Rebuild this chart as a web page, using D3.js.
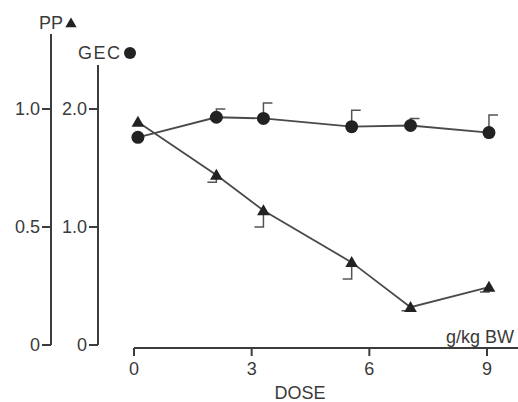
<!DOCTYPE html>
<html>
<head>
<meta charset="utf-8">
<script src="https://cdn.jsdelivr.net/npm/d3@7"></script>
<style>
  body { margin: 0; background: #fff; }
  text { font-family: "Liberation Sans", Arial, sans-serif; fill: #3a3a3a; }
</style>
</head>
<body>
<div id="chart"></div>
<script>
// data
var doses = [0.1, 2.1, 3.3, 5.55, 7.05, 9.05];
var gecValues = [1.76, 1.93, 1.92, 1.85, 1.86, 1.80];
var gecErrTop = [null, 2.0, 2.05, 1.99, 1.92, 1.95];
var ppValues = [0.945, 0.72, 0.57, 0.35, 0.16, 0.245];
var ppErrLow = [null, 0.69, 0.50, 0.28, 0.145, 0.225];
var doseTicks = [0, 3, 6, 9];
var ppTicks = [0, 0.5, 1.0];
var gecTicks = [0, 1.0, 2.0];

var attrs = {
  svgWidth: 518,
  svgHeight: 402,
  ink: '#3c3c3c',
  fontSize: 18
};

var svg = d3.select('#chart').append('svg')
  .attr('width', attrs.svgWidth)
  .attr('height', attrs.svgHeight);

// scales
var x = d3.scaleLinear().domain([0, 9]).range([134, 487]);
var yPP = d3.scaleLinear().domain([0, 1]).range([345, 109]);
var yGEC = d3.scaleLinear().domain([0, 2]).range([345, 109]);

// ---- left axes ----
function leftAxis(xPos, scale, ticks, topY, fmt) {
  var g = svg.append('g').attr('class', 'axis');
  g.append('line')
    .attr('x1', xPos).attr('x2', xPos)
    .attr('y1', topY).attr('y2', scale(0))
    .attr('stroke', attrs.ink).attr('stroke-width', 2);
  g.selectAll('.tick').data(ticks).enter().append('line')
    .attr('x1', xPos - 9).attr('x2', xPos)
    .attr('y1', function (d) { return scale(d); })
    .attr('y2', function (d) { return scale(d); })
    .attr('stroke', attrs.ink).attr('stroke-width', 2);
  g.selectAll('.lbl').data(ticks).enter().append('text')
    .attr('x', xPos - 11)
    .attr('y', function (d) { return scale(d); })
    .attr('dy', '0.35em')
    .attr('text-anchor', 'end')
    .style('font-size', attrs.fontSize + 'px')
    .text(fmt);
}
leftAxis(51, yPP, ppTicks, 34, function (d) { return d === 0 ? '0' : d.toFixed(1); });
leftAxis(98, yGEC, gecTicks, 65, function (d) { return d === 0 ? '0' : d.toFixed(1); });

// axis titles
svg.append('text').attr('x', 39).attr('y', 29)
  .style('font-size', attrs.fontSize + 'px').text('PP');
svg.append('path')
  .attr('d', d3.symbol().type(d3.symbolTriangle).size(55))
  .attr('transform', 'translate(71,24)')
  .attr('fill', '#222');
svg.append('text').attr('x', 78).attr('y', 59)
  .style('font-size', attrs.fontSize + 'px')
  .style('letter-spacing', '1.5px').text('GEC');
svg.append('circle').attr('cx', 130).attr('cy', 53).attr('r', 6)
  .attr('fill', '#222');

// ---- bottom axis ----
var xAxisY = 348;
var xg = svg.append('g').attr('class', 'x-axis');
xg.append('line')
  .attr('x1', x(0)).attr('x2', attrs.svgWidth)
  .attr('y1', xAxisY).attr('y2', xAxisY)
  .attr('stroke', attrs.ink).attr('stroke-width', 2);
xg.selectAll('.tick').data(doseTicks).enter().append('line')
  .attr('x1', function (d) { return x(d); })
  .attr('x2', function (d) { return x(d); })
  .attr('y1', xAxisY).attr('y2', xAxisY + 8)
  .attr('stroke', attrs.ink).attr('stroke-width', 2);
xg.selectAll('.lbl').data(doseTicks).enter().append('text')
  .attr('x', function (d) { return x(d); })
  .attr('y', 375)
  .attr('text-anchor', 'middle')
  .style('font-size', attrs.fontSize + 'px')
  .text(function (d) { return d; });
svg.append('text').attr('x', 300).attr('y', 399)
  .attr('text-anchor', 'middle')
  .style('font-size', attrs.fontSize + 'px').text('DOSE');
svg.append('text').attr('x', 446).attr('y', 343)
  .style('font-size', attrs.fontSize + 'px').text('g/kg BW');

// ---- series ----
var gecData = doses.map(function (d, i) { return { dose: d, v: gecValues[i], e: gecErrTop[i] }; });
var ppData = doses.map(function (d, i) { return { dose: d, v: ppValues[i], e: ppErrLow[i] }; });

var lineGEC = d3.line().x(function (d) { return x(d.dose); }).y(function (d) { return yGEC(d.v); });
var linePP = d3.line().x(function (d) { return x(d.dose); }).y(function (d) { return yPP(d.v); });

svg.append('path').datum(gecData).attr('d', lineGEC)
  .attr('fill', 'none').attr('stroke', '#4a4a4a').attr('stroke-width', 1.8);
svg.append('path').datum(ppData).attr('d', linePP)
  .attr('fill', 'none').attr('stroke', '#4a4a4a').attr('stroke-width', 1.8);

// error bars: GEC upward with cap to the right, PP downward with cap to the left
var capLen = 9;
var gecErr = gecData.filter(function (d) { return d.e != null; });
svg.selectAll('.gec-err').data(gecErr).enter().append('path')
  .attr('class', 'gec-err')
  .attr('d', function (d) {
    var cx = x(d.dose);
    return 'M' + cx + ',' + yGEC(d.v) + 'V' + yGEC(d.e) + 'H' + (cx + capLen);
  })
  .attr('fill', 'none').attr('stroke', '#555').attr('stroke-width', 1.5);
var ppErr = ppData.filter(function (d) { return d.e != null; });
svg.selectAll('.pp-err').data(ppErr).enter().append('path')
  .attr('class', 'pp-err')
  .attr('d', function (d) {
    var cx = x(d.dose);
    return 'M' + cx + ',' + yPP(d.v) + 'V' + yPP(d.e) + 'H' + (cx - capLen);
  })
  .attr('fill', 'none').attr('stroke', '#555').attr('stroke-width', 1.5);

// markers
svg.selectAll('.gec-pt').data(gecData).enter().append('circle')
  .attr('class', 'gec-pt')
  .attr('cx', function (d) { return x(d.dose); })
  .attr('cy', function (d) { return yGEC(d.v); })
  .attr('r', 6.5)
  .attr('fill', '#222');
svg.selectAll('.pp-pt').data(ppData).enter().append('path')
  .attr('class', 'pp-pt')
  .attr('d', d3.symbol().type(d3.symbolTriangle).size(70))
  .attr('transform', function (d) { return 'translate(' + x(d.dose) + ',' + (yPP(d.v) + 1) + ')'; })
  .attr('fill', '#222');
</script>
</body>
</html>
